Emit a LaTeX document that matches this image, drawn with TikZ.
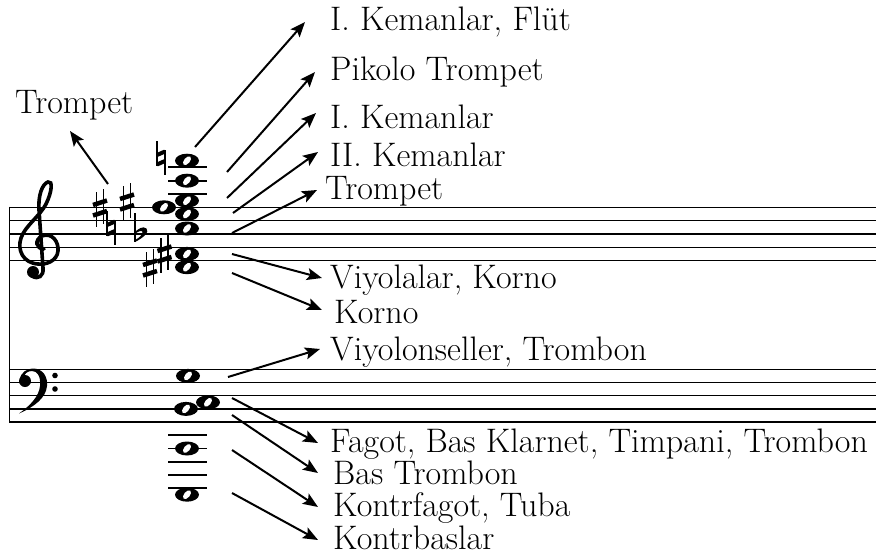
\documentclass[tikz,border=0pt]{standalone}
\usepackage{fontspec}
\usetikzlibrary{arrows.meta}
\begin{document}
\begin{tikzpicture}[x=1pt,y=-1pt,
  staff/.style={line width=1.4pt},
  ledger/.style={line width=1.8pt},
  arr/.style={line width=2pt,-{Stealth[length=15pt,width=12pt,inset=3pt]}},
  lbl/.style={anchor=base west,inner sep=0pt,font=\fontsize{34}{34}\selectfont},
  wnote/.pic={\fill (0,0) ellipse[x radius=12pt,y radius=7pt];
              \fill[white,rotate=-40] (0,0) ellipse[x radius=2.9pt,y radius=5.2pt];},
  sharpsign/.pic={\draw[line width=1.6pt] (-3.5,-16)--(-3.5,19) (3.5,-19)--(3.5,16);
                  \draw[line width=4.5pt] (-7,-3)--(7,-7.5) (-7,7.5)--(7,3);},
  naturalsign/.pic={\draw[line width=1.7pt] (-4,-17)--(-4,8) (4,-8)--(4,17);
                    \draw[line width=4pt] (-4,-3)--(4,-6.5) (-4,6.5)--(4,3);},
  flatsign/.pic={\draw[line width=1.6pt] (-4,-21)--(-4,8);
                 \fill (-4,8) .. controls (4,4) and (11,-2) .. (7.5,-5.5)
                   .. controls (4,-8.5) and (-1,-5) .. (-4,-2) -- (-4,0)
                   .. controls (-1,-3) and (3.5,-4) .. (3.5,-2)
                   .. controls (3.5,1) and (0,4) .. (-4,6) -- cycle;}
]
\useasboundingbox (0,0) rectangle (876,557);

% staves
\foreach \yy in {207.3,220.6,233.9,247.2,260.5} \draw[staff] (9.5,\yy) -- (876,\yy);
\foreach \yy in {369.3,382.5,395.7,408.9,422.1} \draw[staff] (9.5,\yy) -- (876,\yy);
\draw[line width=1.8pt] (9.5,206.6) -- (9.5,422.8);

% treble clef
\draw[line width=3.6pt,line cap=round]
  (44,249) .. controls (36,249) and (34,240) .. (42,236)
  .. controls (52,232) and (59,242) .. (58,251)
  .. controls (57,261) and (46,265) .. (38,264)
  .. controls (23,263) and (17,250) .. (21,238)
  .. controls (25,226) and (40,216) .. (46,204)
  .. controls (52,192) and (53,180) .. (48,182)
  .. controls (42,184) and (38,196) .. (39,210)
  -- (43,268)
  .. controls (44,276) and (38,280) .. (32,276);
\fill (33,272) circle (6);

% bass clef
\fill (20,380) .. controls (20,372) and (28,368.5) .. (33,368.5)
  .. controls (43,368.5) and (48,377) .. (47,386)
  .. controls (46,398) and (34,407) .. (19,413.5)
  .. controls (31,405) and (39,396) .. (40,386)
  .. controls (41,376) and (37,371) .. (32,371)
  .. controls (27,371) and (24,374) .. (24,378) -- cycle;
\fill (25,381) circle (6);
\fill (55,375.5) circle (2.8);
\fill (55,389) circle (2.8);

% treble ledger lines
\foreach \yy in {194,180.7,167.3} \draw[ledger] (168,\yy) -- (207,\yy);
% treble notes
\pic at (187,160.7) {wnote};
\pic at (187,180.7) {wnote};
\pic at (187,200.7) {wnote};
\pic at (164,207.3) {wnote};
\pic at (187,214) {wnote};
\pic at (187,228.5) {wnote};
\pic at (187,253.9) {wnote};
\pic at (187,267.2) {wnote};

% accidentals
\pic at (161,158) {naturalsign};
\pic at (100,208) {sharpsign};
\pic at (111,228) {naturalsign};
\pic at (127,202) {sharpsign};
\pic at (139,234) {flatsign};
\pic at (150,268) {sharpsign};
\pic at (164.5,254) {sharpsign};

% bass ledger lines
\foreach \yy in {435.3,448.5,461.7,474.9,488.1} \draw[ledger] (168,\yy) -- (207,\yy);
% bass notes
\pic at (188,375.9) {wnote};
\pic at (186,408.9) {wnote};
\pic at (208,402.3) {wnote};
\pic at (187,448.5) {wnote};
\pic at (187,494.7) {wnote};

% labels
\node[lbl] (l0) at (15,113) {Trompet};
\node[lbl] (l1) at (330,30) {I. Kemanlar, Flüt};
\node[lbl] (l2) at (330,80) {Pikolo Trompet};
\node[lbl] (l3) at (330,128) {I. Kemanlar};
\node[lbl] (l4) at (330,166) {II. Kemanlar};
\node[lbl] (l5) at (325,199) {Trompet};
\node[lbl] (l6) at (330,288) {Viyolalar, Korno};
\node[lbl] (l7) at (334,323) {Korno};
\node[lbl] (l8) at (330,360) {Viyolonseller, Trombon};
\node[lbl] (l9) at (330,452) {Fagot, Bas Klarnet, Timpani, Trombon};
\node[lbl] (l10) at (333,484) {Bas Trombon};
\node[lbl] (l11) at (333,516) {Kontrfagot, Tuba};
\node[lbl] (l12) at (333,549) {Kontrbaslar};

% arrow ends
\coordinate (t0) at (108,184);  \coordinate (h0) at (70,131);
\coordinate (t1) at (195,147);  \coordinate (h1) at (305,22);
\coordinate (t2) at (227,172);  \coordinate (h2) at (315,72);
\coordinate (t3) at (227,198);  \coordinate (h3) at (316,113);
\coordinate (t4) at (233,213);  \coordinate (h4) at (318,152);
\coordinate (t5) at (232,233);  \coordinate (h5) at (317,190);
\coordinate (t6) at (232,254);  \coordinate (h6) at (322,278);
\coordinate (t7) at (232,273);  \coordinate (h7) at (322,310);
\coordinate (t8) at (228,377);  \coordinate (h8) at (320,349);
\coordinate (t9) at (232,398);  \coordinate (h9) at (318,443);
\coordinate (t10) at (232,415); \coordinate (h10) at (318,473);
\coordinate (t11) at (232,450); \coordinate (h11) at (318,507);
\coordinate (t12) at (232,493); \coordinate (h12) at (318,540);
\foreach \i in {0,...,12} \draw[arr] (t\i) -- (h\i);
\end{tikzpicture}
\end{document}
